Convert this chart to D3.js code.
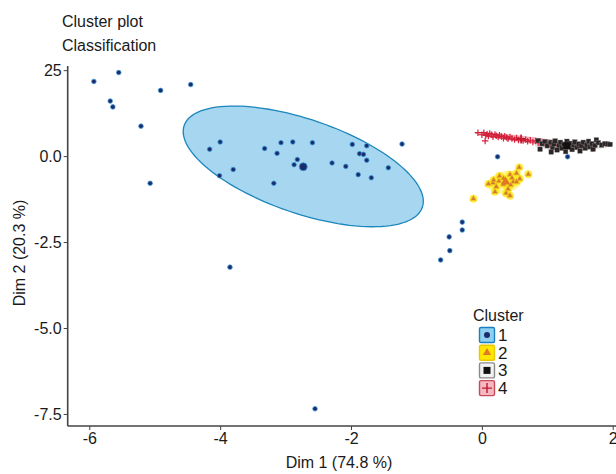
<!DOCTYPE html>
<html>
<head>
<meta charset="utf-8">
<script src="https://cdn.jsdelivr.net/npm/d3@7"></script>
<style>
  body { margin: 0; background: #fff; }
  text { font-family: "Liberation Sans", Arial, sans-serif; fill: #1a1a1a; }
</style>
</head>
<body>
<div id="chart"></div>
<script>
// cluster 1 (blue dots)
var cluster1 = [
  [-5.93, 2.17], [-5.55, 2.43], [-5.68, 1.60], [-5.64, 1.43], [-5.21, 0.87],
  [-4.91, 1.91], [-4.45, 2.08], [-5.07, -0.79], [-4.16, 0.20], [-4.00, 0.41],
  [-3.80, -0.39], [-4.01, -0.57], [-3.32, 0.22], [-3.07, 0.39], [-2.89, 0.41],
  [-2.59, 0.39], [-3.13, 0.08], [-2.82, -0.10], [-2.87, -0.25], [-3.18, -0.79],
  [-2.29, -0.20], [-2.08, -0.30], [-1.98, 0.34], [-1.76, 0.30], [-1.87, 0.07],
  [-1.81, 0.05], [-1.76, -0.12], [-1.89, -0.54], [-1.69, -0.63], [-1.43, -0.34],
  [-1.22, 0.35], [-3.85, -3.23], [-2.55, -7.35], [-0.30, -1.92], [-0.30, -2.15],
  [-0.50, -2.35], [-0.49, -2.75], [-0.63, -3.02], [0.24, -0.02], [1.31, -0.02]
];
// cluster 2 (triangles)
var cluster2 = [
  [0.57, -0.33], [0.71, -0.53], [0.53, -0.50], [0.43, -0.54], [0.33, -0.65],
  [0.58, -0.66], [0.48, -0.75], [0.38, -0.75], [0.26, -0.73], [0.17, -0.78],
  [0.10, -0.81], [0.33, -0.82], [0.44, -0.84], [0.22, -0.89], [0.40, -0.96],
  [0.20, -1.04], [0.37, -1.08], [0.43, -1.15], [-0.13, -1.24], [0.18, -0.70],
  [0.53, -0.75], [0.27, -0.58], [0.46, -0.64]
];
// cluster 3 (squares)
var cluster3 = [
  [0.86, 0.45], [0.89, 0.20], [0.92, 0.36], [0.96, 0.42], [1.00, 0.30],
  [1.06, 0.12], [1.05, 0.40], [1.08, 0.25], [1.10, 0.35], [1.12, 0.44],
  [1.15, 0.18], [1.18, 0.31], [1.20, 0.40], [1.22, 0.23], [1.25, 0.34],
  [1.28, 0.13], [1.30, 0.43], [1.32, 0.27], [1.35, 0.37], [1.38, 0.19],
  [1.40, 0.32], [1.42, 0.41], [1.45, 0.25], [1.48, 0.35], [1.50, 0.15],
  [1.52, 0.30], [1.55, 0.40], [1.58, 0.23], [1.60, 0.33], [1.63, 0.43],
  [1.65, 0.27], [1.68, 0.36], [1.70, 0.20], [1.73, 0.31], [1.75, 0.47],
  [1.78, 0.39], [1.83, 0.32], [1.88, 0.36], [1.92, 0.35], [1.96, 0.34]
];
// cluster 4 (pluses)
var cluster4 = [
  [-0.06, 0.68], [0.00, 0.62], [0.03, 0.68], [0.06, 0.60], [0.08, 0.64],
  [0.10, 0.58], [0.12, 0.66], [0.15, 0.62], [0.17, 0.56], [0.20, 0.63],
  [0.22, 0.59], [0.25, 0.55], [0.27, 0.61], [0.30, 0.57], [0.33, 0.52],
  [0.35, 0.58], [0.38, 0.54], [0.40, 0.50], [0.43, 0.56], [0.46, 0.51],
  [0.50, 0.48], [0.53, 0.53], [0.56, 0.47], [0.60, 0.50], [0.63, 0.45],
  [0.67, 0.48], [0.70, 0.43], [0.74, 0.46], [0.78, 0.41], [0.82, 0.44],
  [0.86, 0.39], [0.90, 0.42], [0.95, 0.37], [1.00, 0.40], [1.05, 0.35],
  [1.10, 0.38], [1.15, 0.33], [1.20, 0.36], [1.28, 0.31], [1.35, 0.34],
  [1.45, 0.30], [1.55, 0.27], [1.69, 0.23], [0.05, 0.44]
];
var centroids = [[-2.73, -0.31], [0.36, -0.75], [1.30, 0.30], [0.60, 0.50]];
// ellipse: center, two conjugate half-axes (data units)
var ellCenter = [[-2.73, -0.30], [0.35, -0.76], [1.38, 0.30], [0.80, 0.45]];
var ellU = [[1.82, -1.19], [0.26, 0.14], [0.58, 0.0], [0.90, -0.22]];
var ellV = [[-0.234, -1.29], [0.05, -0.30], [0.0, 0.14], [-0.01, -0.08]];

var clusterNames = ["1", "2", "3", "4"];
var xTicks = [-6, -4, -2, 0, 2];
var yTicks = [-7.5, -5.0, -2.5, 0.0, 2.5];
var yTickLabels = ["-7.5", "-5.0", "-2.5", "0.0", "25"];

var w = 616, h = 474;
var mLeft = 67.7, mRight = 616, mTop = 66, mBottom = 426;

var ellFill = ["#a6d6f0", "#ffec30", "#b8b8b8", "#f08c9c"];
var ellStroke = ["#1b86bb", "none", "none", "#e0506a"];
var ellOpacity = [1, 0.45, 0.3, 0.5];

var svg = d3.select("#chart").append("svg")
  .attr("width", w).attr("height", h);

var x = d3.scaleLinear().domain([-6.33, 2.05]).range([mLeft, mRight]);
var y = d3.scaleLinear().domain([-7.85, 2.62]).range([mBottom, mTop]);

// ellipses
var line = d3.line().x(d => x(d[0])).y(d => y(d[1])).curve(d3.curveLinearClosed);
ellCenter.forEach(function(c, i){
  var pts = d3.range(0, 2 * Math.PI, Math.PI / 60).map(function(t){
    return [c[0] + Math.cos(t) * ellU[i][0] + Math.sin(t) * ellV[i][0],
            c[1] + Math.cos(t) * ellU[i][1] + Math.sin(t) * ellV[i][1]];
  });
  svg.append("path")
    .attr("d", line(pts))
    .attr("fill", ellFill[i])
    .attr("fill-opacity", ellOpacity[i])
    .attr("stroke", ellStroke[i])
    .attr("stroke-opacity", i == 0 ? 1 : 0.5)
    .attr("stroke-width", i == 0 ? 1.3 : 0.8);
});

// axes
var xAxis = svg.append("g")
  .attr("transform", "translate(0," + mBottom + ")")
  .call(d3.axisBottom(x).tickValues(xTicks).tickSize(4).tickPadding(3).tickFormat(d => String(d)));
var yAxis = svg.append("g")
  .attr("transform", "translate(" + mLeft + ",0)")
  .call(d3.axisLeft(y).tickValues(yTicks).tickSize(4).tickPadding(2)
    .tickFormat((d, i) => yTickLabels[i]));
[xAxis, yAxis].forEach(function(a){
  a.select(".domain").attr("stroke", "#444").attr("stroke-width", 1.6);
  a.selectAll(".tick line").attr("stroke", "#444");
  a.selectAll(".tick text").style("font-size", "16px").attr("fill", "#1a1a1a")
    .style("font-family", "'Liberation Sans', Arial, sans-serif");
});
xAxis.select(".domain").attr("d", "M" + mLeft + ",0H" + mRight);
yAxis.select(".domain").attr("d", "M0," + mTop + "V" + mBottom);

// points
var plot = svg.append("g");
var tri = d3.symbol().type(d3.symbolTriangle).size(14);
// yellow halos first so they merge into a blob
plot.selectAll(".c2h").data(cluster2).enter().append("circle")
  .attr("class", "c2h")
  .attr("cx", d => x(d[0])).attr("cy", d => y(d[1])).attr("r", 4)
  .attr("fill", "#ffe81a").attr("fill-opacity", 0.8);
plot.selectAll(".c2").data(cluster2).enter().append("path")
  .attr("class", "c2")
  .attr("d", tri)
  .attr("transform", d => "translate(" + x(d[0]) + "," + y(d[1]) + ")")
  .attr("fill", "#d07a30").attr("stroke", "#f0c020").attr("stroke-width", 0.8);
plot.selectAll(".c4").data(cluster4).enter().append("path")
  .attr("class", "c4")
  .attr("d", "M-3.2,0H3.2M0,-3.2V3.2")
  .attr("transform", d => "translate(" + x(d[0]) + "," + y(d[1]) + ")")
  .attr("stroke", "#d3203a").attr("stroke-width", 1.2).attr("fill", "none");
plot.selectAll(".c3").data(cluster3).enter().append("rect")
  .attr("class", "c3")
  .attr("x", d => x(d[0]) - 2.3).attr("y", d => y(d[1]) - 2.3)
  .attr("width", 4.6).attr("height", 4.6)
  .attr("fill", "#2a2424").attr("stroke", "#777").attr("stroke-width", 0.4);
plot.selectAll(".c1").data(cluster1).enter().append("circle")
  .attr("class", "c1")
  .attr("cx", d => x(d[0])).attr("cy", d => y(d[1]))
  .attr("r", 2.3)
  .attr("fill", "#1d2a6c").attr("stroke", "#3a9ad6").attr("stroke-width", 0.8);

// centroids
plot.append("circle")
  .attr("cx", x(centroids[0][0])).attr("cy", y(centroids[0][1])).attr("r", 4)
  .attr("fill", "#1d2a6c").attr("stroke", "#3a9ad6").attr("stroke-width", 0.8);
plot.append("path")
  .attr("d", d3.symbol().type(d3.symbolTriangle).size(36))
  .attr("transform", "translate(" + x(centroids[1][0]) + "," + y(centroids[1][1]) + ")")
  .attr("fill", "#e07a22");
plot.append("rect")
  .attr("x", x(centroids[2][0]) - 3.5).attr("y", y(centroids[2][1]) - 3.5)
  .attr("width", 7).attr("height", 7).attr("fill", "#111");
plot.append("path")
  .attr("d", "M-4.5,0H4.5M0,-4.5V4.5")
  .attr("transform", "translate(" + x(centroids[3][0]) + "," + y(centroids[3][1]) + ")")
  .attr("stroke", "#c0182e").attr("stroke-width", 1.6);

// titles
svg.append("text").attr("x", 62).attr("y", 27).style("font-size", "16px").text("Cluster plot");
svg.append("text").attr("x", 62).attr("y", 51).style("font-size", "16px").text("Classification");
svg.append("text").attr("x", 339).attr("y", 468).attr("text-anchor", "middle")
  .style("font-size", "16px").text("Dim 1 (74.8 %)");
svg.append("text").attr("transform", "translate(25,253) rotate(-90)").attr("text-anchor", "middle")
  .style("font-size", "16px").text("Dim 2 (20.3 %)");

// legend
var legend = svg.append("g").attr("transform", "translate(473,0)");
legend.append("text").attr("x", 0).attr("y", 321).style("font-size", "16px").text("Cluster");
var keyFill = ["#8fd0f0", "#ffe600", "#f2f2f2", "#f5b8c2"];
var keyStroke = ["#1a7fbf", "#e8c800", "#8a8a8a", "#c84a5a"];
var keys = legend.selectAll(".key").data(clusterNames).enter().append("g")
  .attr("class", "key")
  .attr("transform", (d, i) => "translate(14," + (335 + i * 17.7) + ")");
keys.append("rect")
  .attr("x", -7.5).attr("y", -7.5).attr("width", 15).attr("height", 15).attr("rx", 1.5)
  .attr("fill", (d, i) => keyFill[i]).attr("stroke", (d, i) => keyStroke[i]).attr("stroke-width", 1.4);
keys.each(function(d, i){
  var k = d3.select(this);
  if (i == 0) k.append("circle").attr("r", 3).attr("fill", "#1d2a6c");
  if (i == 1) k.append("path").attr("d", d3.symbol().type(d3.symbolTriangle).size(30)).attr("fill", "#e07a22");
  if (i == 2) k.append("rect").attr("x", -3.5).attr("y", -3.5).attr("width", 7).attr("height", 7).attr("fill", "#111");
  if (i == 3) k.append("path").attr("d", "M-5,0H5M0,-5V5").attr("stroke", "#c0182e").attr("stroke-width", 1.4);
});
keys.append("text").attr("x", 11).attr("y", 6).style("font-size", "17px").text(d => d);
</script>
</body>
</html>
